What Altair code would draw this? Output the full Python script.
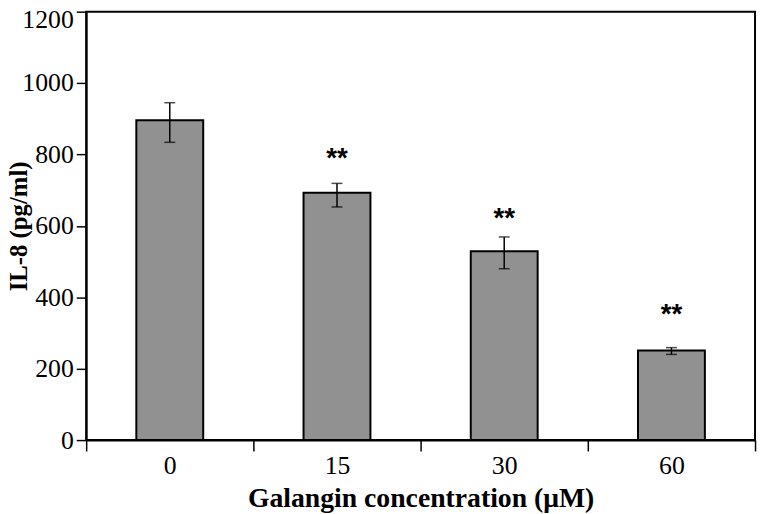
import json
import altair as alt
import pandas as pd

# ---- data ----
concentrations = ["0", "15", "30", "60"]
il8_mean = [896, 693, 529, 251]
err_upper = [945, 719, 569, 259]
err_lower = [834, 653, 480, 240]
star_text = ["", "**", "**", "**"]
star_pos = [None, 793, 624, 355]
y_ticks = [0, 200, 400, 600, 800, 1000, 1200]

df = pd.DataFrame({
    "conc": concentrations,
    "idx": list(range(len(concentrations))),
    "mean": il8_mean,
    "hi": err_upper,
    "lo": err_lower,
    "star": star_text,
    "star_y": star_pos,
})

n = len(concentrations)
x_values = [i * 0.5 for i in range(2 * n + 1)]
label_expr = ("datum.value % 1 === 0 ? '' : " + json.dumps(concentrations)
              + "[floor(datum.value)]")

serif = "Liberation Serif"

x_scale = alt.Scale(domain=[0, n], nice=False, zero=False)
y_scale = alt.Scale(domain=[0, max(y_ticks)], nice=False)

x_axis = alt.Axis(
    values=x_values, labelExpr=label_expr, grid=False,
    tickOpacity={"condition": {"test": "datum.value % 1 === 0", "value": 1}, "value": 0},
    labelFlush=False, labelOverlap=False, labelBound=False,
    tickSize=11, labelPadding=2,
    title="Galangin concentration (μM)", titleFontSize=28,
    titleBaseline="alphabetic", titleY=67,
)
y_axis = alt.Axis(
    values=y_ticks, grid=False, format="d",
    tickSize=10, labelPadding=3,
    labelOffset={"condition": {"test": "datum.value >= 1200", "value": 8}, "value": 0},
    labelFlush=False, labelOverlap=False, labelBound=False,
    title="IL-8 (pg/ml)", titleFontSize=25,
    titleBaseline="alphabetic", titleX=-60,
)

base = alt.Chart(df).transform_calculate(
    x0="datum.idx + 0.3", x1="datum.idx + 0.7", xc="datum.idx + 0.5"
)

bars = base.mark_bar(color="#919191", stroke="black", strokeWidth=2).encode(
    x=alt.X("x0:Q", scale=x_scale, axis=x_axis),
    x2="x1:Q",
    y=alt.Y("mean:Q", scale=y_scale, axis=y_axis),
    y2=alt.datum(0),
)

err = base.mark_rule(color="black", strokeWidth=1.5).encode(
    x="xc:Q", y="lo:Q", y2="hi:Q"
)

caps = base.transform_fold(["lo", "hi"], as_=["k", "v"]).mark_tick(
    orient="horizontal", size=11, thickness=1.5, color="black"
).encode(x="xc:Q", y="v:Q")

stars = base.transform_filter("datum.star != ''").mark_text(
    font="Liberation Sans", fontSize=28, fontWeight="bold", color="black",
    baseline="alphabetic", dy=10
).encode(x="xc:Q", y="star_y:Q", text="star:N")

chart = alt.layer(bars, err, caps, stars).properties(
    width=676, height=433, background="white",
    autosize=alt.AutoSizeParams(type="none"),
    padding={"left": 79, "top": 1, "right": 3, "bottom": 72},
).configure(
    font=serif
).configure_view(
    stroke="black", strokeWidth=2
).configure_axis(
    labelFont=serif, labelFontSize=26, labelColor="black",
    titleFont=serif, titleFontWeight="bold", titleColor="black",
    tickColor="black", tickWidth=1.5, domainColor="black", domainWidth=2,
)

chart.save("out.html", embed_options={"renderer": "svg", "actions": False})
